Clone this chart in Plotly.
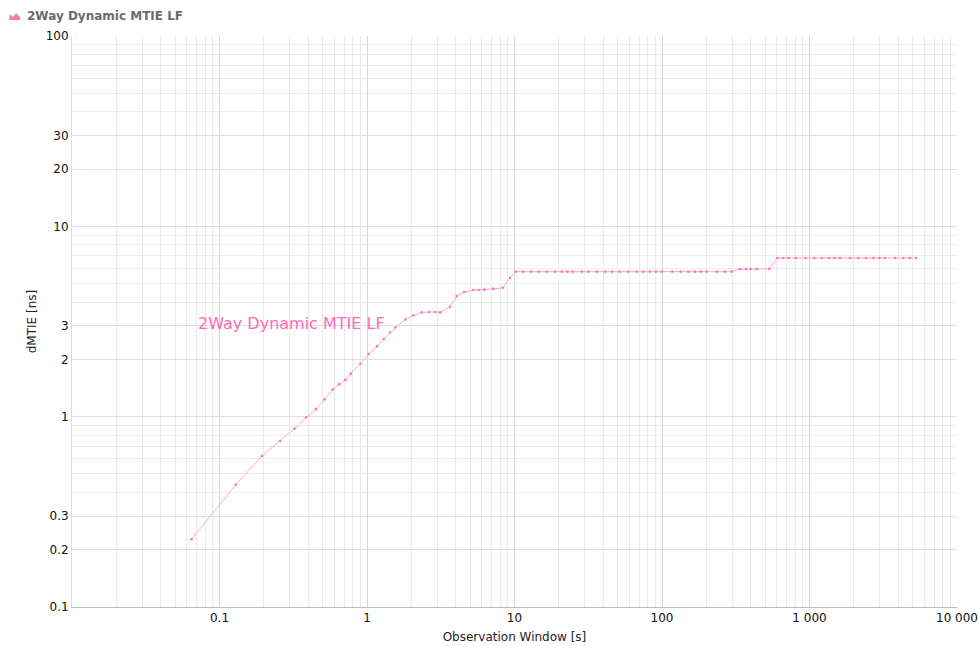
import plotly.graph_objects as go

# ---- data ----
obs_window = [0.0646, 0.129, 0.194, 0.258, 0.322, 0.386, 0.451, 0.516, 0.585, 0.649,
              0.713, 0.776, 0.901, 1.027, 1.169, 1.298, 1.432, 1.556, 1.82, 2.06,
              2.35, 2.64, 2.90, 3.13, 3.65, 4.06, 4.55, 5.26, 5.75, 6.24,
              7.18, 8.32, 9.33,
              10.2, 11.47, 12.95, 14.59, 16.53, 18.82, 20.9, 22.9, 24.8, 28.6,
              31.7, 36.1, 41.3, 46.0, 51.6, 59.1, 67.4, 74.7, 82.9, 91.0,
              100, 117.5, 134, 150.8, 167.5, 183, 201, 235, 267, 297,
              338, 371, 399, 438, 534,
              606, 664, 722, 809, 942, 1078, 1210, 1356, 1473, 1610,
              1882, 2143, 2417, 2708, 2974, 3251, 3800, 4326, 4800, 5270]
dmtie_ns = [0.227, 0.439, 0.622, 0.745, 0.865, 0.99, 1.095, 1.233, 1.387, 1.479,
            1.56, 1.683, 1.892, 2.135, 2.34, 2.56, 2.77, 2.94, 3.24, 3.40,
            3.53, 3.55, 3.55, 3.53, 3.78, 4.30, 4.52, 4.63, 4.63, 4.65,
            4.69, 4.75, 5.35,
            5.78, 5.78, 5.78, 5.78, 5.78, 5.78, 5.78, 5.78, 5.78, 5.78,
            5.78, 5.78, 5.78, 5.78, 5.78, 5.78, 5.78, 5.78, 5.78, 5.78,
            5.78, 5.78, 5.78, 5.78, 5.78, 5.78, 5.78, 5.78, 5.78, 5.78,
            5.97, 5.97, 5.97, 5.97, 5.97,
            6.82, 6.82, 6.82, 6.82, 6.82, 6.82, 6.82, 6.82, 6.82, 6.82,
            6.82, 6.82, 6.82, 6.82, 6.82, 6.82, 6.82, 6.82, 6.82, 6.82]

series_name = "2Way Dynamic MTIE LF"
x_title = "Observation Window [s]"
y_title = "dMTIE [ns]"

x_tick_vals = [0.1, 1, 10, 100, 1000, 10000]
x_tick_text = ["0.1", "1", "10", "100", "1 000", "10 000"]
x_minor_vals = [m * 10 ** e for e in range(-2, 4) for m in range(2, 10)]

y_tick_vals = [0.1, 0.2, 0.3, 1, 2, 3, 10, 20, 30, 100]
y_tick_text = ["0.1", "0.2", "0.3", "1", "2", "3", "10", "20", "30", "100"]
y_minor_vals = [m * 10 ** e for e in range(-1, 2) for m in range(4, 10)]

FONT = "DejaVu Sans"
PINK_LINE = "#ffa6d3"
PINK_MARK = "#ff73ba"
PINK_TEXT = "#ff6ab4"

fig = go.Figure()
fig.add_trace(go.Scatter(
    x=obs_window, y=dmtie_ns, mode="lines+markers", name=series_name,
    line=dict(color=PINK_LINE, width=1),
    marker=dict(color=PINK_MARK, size=2.6),
    showlegend=False,
))

fig.add_annotation(
    x=-1.159, y=0.4886, xref="x", yref="y", text=series_name,
    showarrow=False, xanchor="left", yanchor="middle",
    font=dict(family=FONT, size=16, color=PINK_TEXT),
)

# small legend-like icon beside the title
fig.add_shape(
    type="path", xref="paper", yref="paper",
    path="M -0.0712,1.0280 L -0.0700,1.0385 L -0.0666,1.0330 L -0.0633,1.0403 L -0.0588,1.0330 L -0.0588,1.0280 Z",
    fillcolor=PINK_MARK, line=dict(width=0),
)

fig.update_layout(
    width=979, height=646,
    margin=dict(l=72, r=22, t=36, b=39),
    paper_bgcolor="white", plot_bgcolor="white",
    font=dict(family=FONT, size=12, color="#222"),
    title=dict(text="<b>" + series_name + "</b>", x=27 / 979, xanchor="left",
               y=1 - 16 / 646, yanchor="middle", xref="container", yref="container",
               font=dict(family=FONT, size=12, color="#6a6a6a")),
    xaxis=dict(
        type="log", range=[-2, 4], automargin=False,
        tickmode="array", tickvals=x_tick_vals, ticktext=x_tick_text,
        showgrid=True, gridcolor="#d6d6d6", gridwidth=1,
        minor=dict(tickmode="array", tickvals=x_minor_vals, showgrid=True,
                   gridcolor="#ebebeb", gridwidth=1),
        showline=True, linecolor="#bdbdbd", linewidth=1,
        ticks="", zeroline=False,
        tickfont=dict(family=FONT, size=12, color="#111"),
        title=dict(text=x_title, standoff=8, font=dict(family=FONT, size=12, color="#222")),
    ),
    yaxis=dict(
        type="log", range=[-1, 2], automargin=False,
        tickmode="array", tickvals=y_tick_vals, ticktext=y_tick_text,
        showgrid=True, gridcolor="#dedede", gridwidth=1,
        minor=dict(tickmode="array", tickvals=y_minor_vals, showgrid=True,
                   gridcolor="#ececec", gridwidth=1),
        showline=True, linecolor="#dcdcdc", linewidth=1,
        ticks="", zeroline=False,
        tickfont=dict(family=FONT, size=12, color="#111"),
        title=dict(text=y_title, standoff=6, font=dict(family=FONT, size=12, color="#222")),
    ),
)

fig.write_html("out.html")
